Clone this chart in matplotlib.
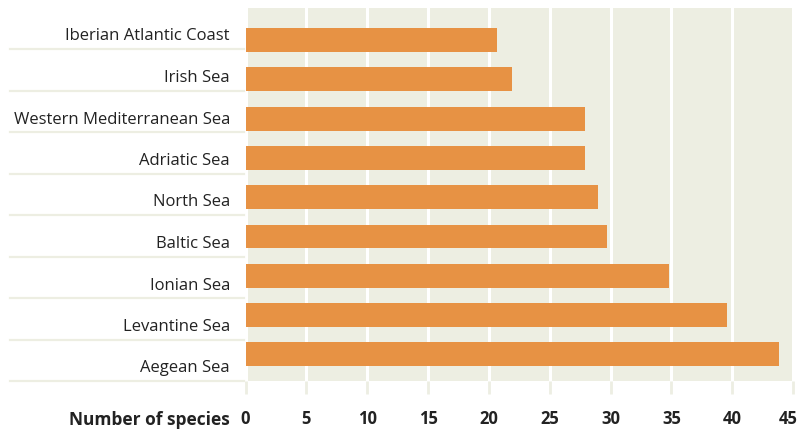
import matplotlib
matplotlib.use("Agg")
import matplotlib.pyplot as plt
import numpy as np
from matplotlib.lines import Line2D
from matplotlib.transforms import ScaledTranslation

# categories top to bottom
regions = ['Iberian Atlantic Coast', 'Irish Sea', 'Western Mediterranean Sea',
           'Adriatic Sea', 'North Sea', 'Baltic Sea', 'Ionian Sea',
           'Levantine Sea', 'Aegean Sea']
species = [20.7, 21.9, 27.9, 27.9, 29.0, 29.7, 34.8, 39.6, 43.8]
x_ticks = [0, 5, 10, 15, 20, 25, 30, 35, 40, 45]
x_label = 'Number of species'

bg = '#EDEEE2'
bar_color = '#E79244'
text_color = '#222222'

plt.rcParams['font.family'] = ['Open Sans', 'DejaVu Sans']

W, H = 801, 431
fig = plt.figure(figsize=(W / 100, H / 100), dpi=100)
ax_left, ax_right, ax_top, ax_bottom = 245.5, 794, 9, 382
ax = fig.add_axes([ax_left / W, 1 - ax_bottom / H,
                   (ax_right - ax_left) / W, (ax_bottom - ax_top) / H])
ax.set_facecolor(bg)

y_pos = np.arange(len(regions))[::-1]
ax.barh(y_pos, species, height=0.61, color=bar_color, zorder=3)
ax.set_ylim(-0.674, 8.81)
ax.set_xlim(0, 45.07)

ax.set_xticks(x_ticks)
ax.set_xticklabels([str(t) for t in x_ticks], fontweight='bold', fontsize=12,
                   color=text_color)
ax.set_yticks([])
ax.xaxis.grid(True, color='white', lw=2.2, zorder=1)
ax.set_axisbelow(True)
ax.tick_params(axis='x', length=9.4, width=2, color=bg, pad=11)
for s in ax.spines.values():
    s.set_visible(False)
fig.canvas.draw()
last = ax.get_xticklabels()[-1]
last.set_transform(last.get_transform() + ScaledTranslation(-0.05, 0, fig.dpi_scale_trans))

# label underlines and category names (own spacing, like the original)
line_ys = np.linspace(50, 382, len(regions))
for name, ly in zip(regions, line_ys):
    fig.add_artist(Line2D([10 / W, 244 / W], [1 - ly / H, 1 - ly / H],
                          color=bg, lw=1.6, transform=fig.transFigure))
    fig.text(230 / W, 1 - (ly - 9.5) / H, name, ha='right', va='baseline',
             fontsize=12, color=text_color)

fig.text(230 / W, 1 - 425.5 / H, x_label, ha='right', va='baseline',
         fontsize=12.5, fontweight='bold', color=text_color)

fig.savefig('out.png', dpi=100)
